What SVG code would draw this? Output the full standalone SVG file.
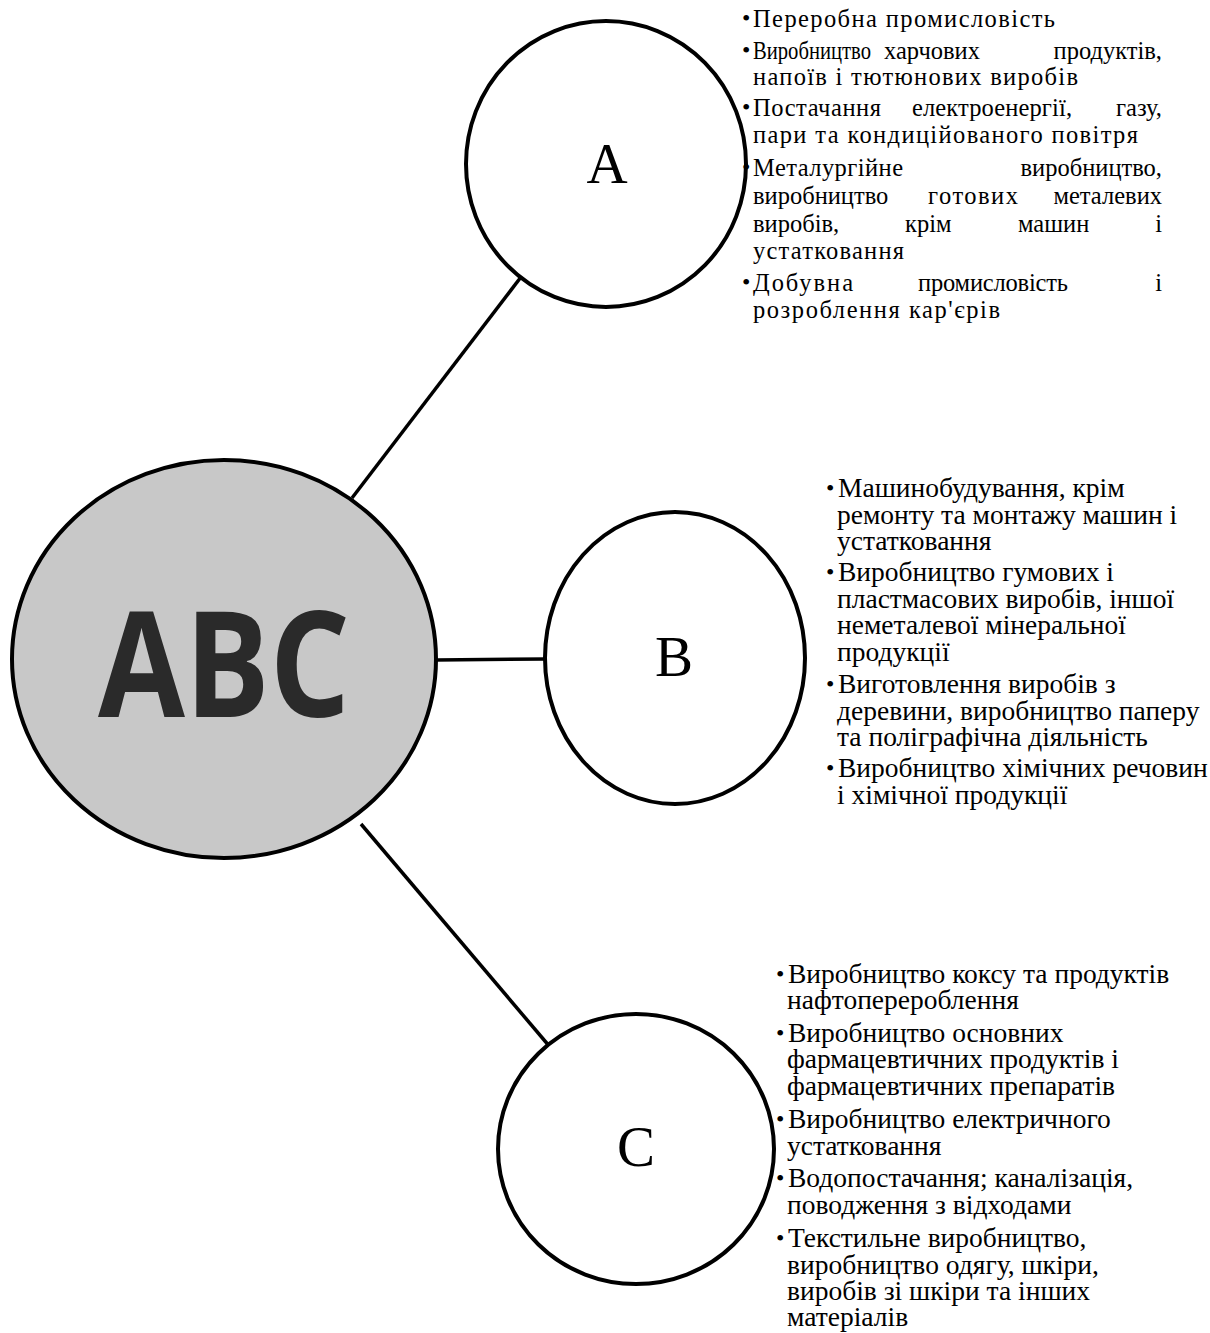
<svg xmlns="http://www.w3.org/2000/svg" width="1210" height="1333" viewBox="0 0 1210 1333">
<style>
.node{fill:#fff;stroke:#000;stroke-width:4}
.main{fill:#c8c8c8;stroke:#000;stroke-width:4}
.edge{stroke:#000;stroke-width:3.5;fill:none}
.lbl{font-family:"Liberation Serif","Times New Roman",serif;font-size:57px;text-anchor:middle;fill:#000}
.big{font-family:"Open Sans","Noto Sans",sans-serif;font-weight:700;font-size:147px;fill:#2a2a2a}
.t{font-family:"Liberation Serif","Times New Roman",serif;font-size:27.5px;fill:#000}
.ta{font-family:"Liberation Serif","Times New Roman",serif;font-size:24.5px;fill:#000}
.b{font-family:"Liberation Serif","Times New Roman",serif;font-size:24px;fill:#000}
.e{text-anchor:end}
</style>
<rect width="1210" height="1333" fill="#fff"/>
<g id="connectors">
<line class="edge" x1="352" y1="498" x2="521" y2="277"/>
<line class="edge" x1="436" y1="660" x2="546" y2="659"/>
<line class="edge" x1="361" y1="824" x2="550" y2="1047"/>
</g>
<g id="node-abc">
<ellipse class="main" cx="224" cy="659" rx="212" ry="199"/>
<text class="big" x="98" y="717" textLength="252" lengthAdjust="spacingAndGlyphs">ABC</text>
</g>
<g id="node-a">
<ellipse class="node" cx="606" cy="164" rx="140" ry="143"/>
<text class="lbl" x="607" y="183">A</text>
</g>
<g id="node-b">
<ellipse class="node" cx="675" cy="658" rx="130" ry="146"/>
<text class="lbl" x="674" y="676">B</text>
</g>
<g id="node-c">
<ellipse class="node" cx="636" cy="1149" rx="138" ry="135"/>
<text class="lbl" x="636" y="1166">C</text>
</g>
<g id="text-a" class="ta">
<text class="b" x="742" y="26">•</text><text x="753" y="27" textLength="302">Переробна промисловість</text>
<text class="b" x="742" y="58">•</text><text x="753" y="59" textLength="118" lengthAdjust="spacingAndGlyphs">Виробництво</text><text x="884" y="59">харчових</text><text class="e" x="1162" y="59">продуктів,</text>
<text x="753" y="85" textLength="325">напоїв і тютюнових виробів</text>
<text class="b" x="742" y="115">•</text><text x="753" y="116" textLength="128">Постачання</text><text x="912" y="116" textLength="160">електроенергії,</text><text class="e" x="1162" y="116">газу,</text>
<text x="753" y="143" textLength="385">пари та кондиційованого повітря</text>
<text class="b" x="742" y="175">•</text><text x="753" y="176" textLength="150">Металургійне</text><text class="e" x="1162" y="176">виробництво,</text>
<text x="753" y="204">виробництво</text><text x="928" y="204" textLength="90">готових</text><text class="e" x="1162" y="204">металевих</text>
<text x="753" y="232">виробів,</text><text x="905" y="232">крім</text><text x="1018" y="232">машин</text><text class="e" x="1162" y="232">і</text>
<text x="753" y="259" textLength="151">устатковання</text>
<text class="b" x="742" y="290">•</text><text x="753" y="291" textLength="100">Добувна</text><text x="918" y="291" textLength="150">промисловість</text><text class="e" x="1162" y="291">і</text>
<text x="753" y="318" textLength="247">розроблення кар'єрів</text>
</g>
<g id="text-b" class="t">
<text class="b" x="826" y="496">•</text><text x="838" y="497">Машинобудування, крім</text>
<text x="837" y="524">ремонту та монтажу машин і</text>
<text x="837" y="550">устатковання</text>
<text class="b" x="826" y="580">•</text><text x="838" y="581">Виробництво гумових і</text>
<text x="837" y="608">пластмасових виробів, іншої</text>
<text x="837" y="634">неметалевої мінеральної</text>
<text x="837" y="661">продукції</text>
<text class="b" x="826" y="692">•</text><text x="838" y="693">Виготовлення виробів з</text>
<text x="837" y="720">деревини, виробництво паперу</text>
<text x="837" y="746">та поліграфічна діяльність</text>
<text class="b" x="826" y="776">•</text><text x="838" y="777">Виробництво хімічних речовин</text>
<text x="837" y="804">і хімічної продукції</text>
</g>
<g id="text-c" class="t">
<text class="b" x="776" y="982">•</text><text x="788" y="983">Виробництво коксу та продуктів</text>
<text x="787" y="1009">нафтоперероблення</text>
<text class="b" x="776" y="1041">•</text><text x="788" y="1042">Виробництво основних</text>
<text x="787" y="1068">фармацевтичних продуктів і</text>
<text x="787" y="1095">фармацевтичних препаратів</text>
<text class="b" x="776" y="1127">•</text><text x="788" y="1128">Виробництво електричного</text>
<text x="787" y="1155">устатковання</text>
<text class="b" x="776" y="1186">•</text><text x="788" y="1187">Водопостачання; каналізація,</text>
<text x="787" y="1214">поводження з відходами</text>
<text class="b" x="776" y="1246">•</text><text x="788" y="1247">Текстильне виробництво,</text>
<text x="787" y="1274">виробництво одягу, шкіри,</text>
<text x="787" y="1300">виробів зі шкіри та інших</text>
<text x="787" y="1326">матеріалів</text>
</g>
</svg>
